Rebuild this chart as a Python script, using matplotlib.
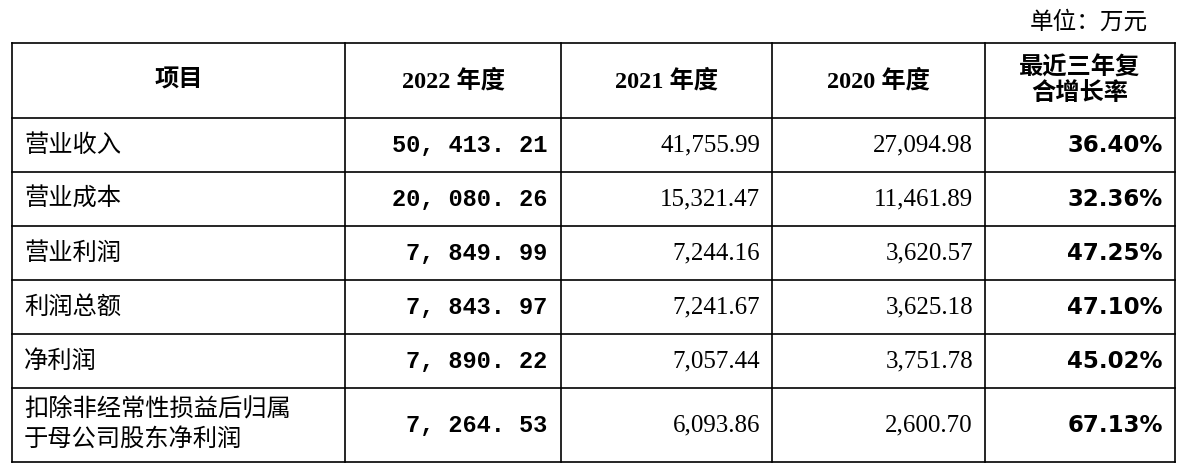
import matplotlib
matplotlib.use("Agg")
import matplotlib.pyplot as plt

headers = ["项目", "2022 年度", "2021 年度", "2020 年度", "最近三年复\n合增长率"]
items = ["营业收入", "营业成本", "营业利润", "利润总额", "净利润", "扣除非经常性损益后归属\n于母公司股东净利润"]
v2022 = ["50, 413. 21", "20, 080. 26", "7, 849. 99", "7, 843. 97", "7, 890. 22", "7, 264. 53"]
v2021 = ["41,755.99", "15,321.47", "7,244.16", "7,241.67", "7,057.44", "6,093.86"]
v2020 = ["27,094.98", "11,461.89", "3,620.57", "3,625.18", "3,751.78", "2,600.70"]
cagr = ["36.40%", "32.36%", "47.25%", "47.10%", "45.02%", "67.13%"]

W, H = 1186, 471
fig = plt.figure(figsize=(W/100, H/100), dpi=100)
ax = fig.add_axes([0, 0, 1, 1])
ax.set_xlim(0, W); ax.set_ylim(H, 0); ax.axis("off")

cols = [12, 345, 561, 772, 985, 1175]
rows = [43, 118, 172, 226, 280, 334, 388, 462]
cjk = ["Noto Sans CJK SC", "DejaVu Sans"]
serif = ["Liberation Serif", "Noto Sans CJK SC"]
mono = ["Liberation Mono", "Noto Sans CJK SC"]

for x in cols:
    ax.plot([x, x], [rows[0], rows[-1]], color="black", lw=1.2)
for y in rows:
    ax.plot([cols[0], cols[-1]], [y, y], color="black", lw=1.2)

ax.text(1148, 22, "单位：万元", ha="right", va="center", fontsize=17, family=cjk)

hy = (rows[0] + rows[1]) / 2
for i, h in enumerate(headers):
    cx = (cols[i] + cols[i+1]) / 2
    ax.text(cx, hy, h, ha="center", va="center", fontsize=17.5, fontweight="bold",
            family=["Liberation Serif", "Noto Sans CJK SC"], linespacing=1.15)

for r in range(len(items)):
    cy = (rows[r+1] + rows[r+2]) / 2
    ax.text(cols[0] + 12, cy, items[r], ha="left", va="center", fontsize=17.5, family=cjk, linespacing=1.2)
    ax.text(cols[2] - 14, cy, v2022[r], ha="right", va="center", fontsize=17, fontweight="bold", family=mono)
    ax.text(cols[3] - 12, cy, v2021[r], ha="right", va="center", fontsize=18, family=serif)
    ax.text(cols[4] - 12, cy, v2020[r], ha="right", va="center", fontsize=18, family=serif)
    ax.text(cols[5] - 12, cy, cagr[r], ha="right", va="center", fontsize=16.5, fontweight="bold", family=["DejaVu Sans"])

fig.savefig("out.png", dpi=100, facecolor="white")
